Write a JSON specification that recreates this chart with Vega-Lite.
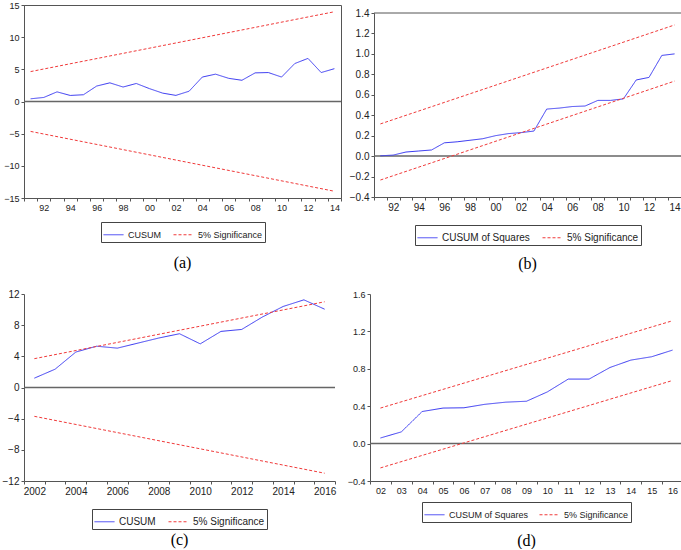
{
  "$schema": "https://vega.github.io/schema/vega-lite/v6.json",
  "padding": {"left": 0, "top": 0, "right": 0, "bottom": 0},
  "background": "white",
  "config": {
    "view": {"stroke": null},
    "font": "Liberation Sans",
    "axis": {"grid": false, "domainColor": "#555", "tickColor": "#555", "labelColor": "#222", "labelFont": "Liberation Sans", "tickSize": 3, "labelPadding": 2, "title": null, "labelOverlap": false},
    "legend": {"orient": "bottom", "direction": "horizontal", "title": null, "strokeColor": "#444", "padding": 2, "symbolType": "stroke", "symbolStrokeWidth": 1, "labelFont": "Liberation Sans", "labelColor": "#222", "columnPadding": 10, "offset": 6, "layout": {"bottom": {"anchor": "middle"}}},
    "title": {"font": "Liberation Serif", "fontSize": 16, "fontWeight": "normal", "color": "#000", "orient": "bottom", "anchor": "middle"}
  },
  "datasets": {
    "a": [
      {"yr": 1991, "v": 0.42, "s": "CUSUM", "g": "c"},
      {"yr": 1992, "v": 0.63, "s": "CUSUM", "g": "c"},
      {"yr": 1993, "v": 1.5, "s": "CUSUM", "g": "c"},
      {"yr": 1994, "v": 0.94, "s": "CUSUM", "g": "c"},
      {"yr": 1995, "v": 1.05, "s": "CUSUM", "g": "c"},
      {"yr": 1996, "v": 2.4, "s": "CUSUM", "g": "c"},
      {"yr": 1997, "v": 2.9, "s": "CUSUM", "g": "c"},
      {"yr": 1998, "v": 2.25, "s": "CUSUM", "g": "c"},
      {"yr": 1999, "v": 2.8, "s": "CUSUM", "g": "c"},
      {"yr": 2000, "v": 2.0, "s": "CUSUM", "g": "c"},
      {"yr": 2001, "v": 1.3, "s": "CUSUM", "g": "c"},
      {"yr": 2002, "v": 0.95, "s": "CUSUM", "g": "c"},
      {"yr": 2003, "v": 1.6, "s": "CUSUM", "g": "c"},
      {"yr": 2004, "v": 3.8, "s": "CUSUM", "g": "c"},
      {"yr": 2005, "v": 4.25, "s": "CUSUM", "g": "c"},
      {"yr": 2006, "v": 3.6, "s": "CUSUM", "g": "c"},
      {"yr": 2007, "v": 3.3, "s": "CUSUM", "g": "c"},
      {"yr": 2008, "v": 4.45, "s": "CUSUM", "g": "c"},
      {"yr": 2009, "v": 4.5, "s": "CUSUM", "g": "c"},
      {"yr": 2010, "v": 3.8, "s": "CUSUM", "g": "c"},
      {"yr": 2011, "v": 5.9, "s": "CUSUM", "g": "c"},
      {"yr": 2012, "v": 6.7, "s": "CUSUM", "g": "c"},
      {"yr": 2013, "v": 4.5, "s": "CUSUM", "g": "c"},
      {"yr": 2014, "v": 5.1, "s": "CUSUM", "g": "c"},
      {"yr": 1991, "v": 4.65, "s": "5% Significance", "g": "u"},
      {"yr": 2014, "v": 13.95, "s": "5% Significance", "g": "u"},
      {"yr": 1991, "v": -4.65, "s": "5% Significance", "g": "l"},
      {"yr": 2014, "v": -13.95, "s": "5% Significance", "g": "l"}
    ],
    "b": [
      {"yr": 1991, "v": 0.003, "s": "CUSUM of Squares", "g": "c"},
      {"yr": 1992, "v": 0.01, "s": "CUSUM of Squares", "g": "c"},
      {"yr": 1993, "v": 0.04, "s": "CUSUM of Squares", "g": "c"},
      {"yr": 1994, "v": 0.05, "s": "CUSUM of Squares", "g": "c"},
      {"yr": 1995, "v": 0.06, "s": "CUSUM of Squares", "g": "c"},
      {"yr": 1996, "v": 0.13, "s": "CUSUM of Squares", "g": "c"},
      {"yr": 1997, "v": 0.14, "s": "CUSUM of Squares", "g": "c"},
      {"yr": 1998, "v": 0.155, "s": "CUSUM of Squares", "g": "c"},
      {"yr": 1999, "v": 0.17, "s": "CUSUM of Squares", "g": "c"},
      {"yr": 2000, "v": 0.2, "s": "CUSUM of Squares", "g": "c"},
      {"yr": 2001, "v": 0.22, "s": "CUSUM of Squares", "g": "c"},
      {"yr": 2002, "v": 0.23, "s": "CUSUM of Squares", "g": "c"},
      {"yr": 2003, "v": 0.245, "s": "CUSUM of Squares", "g": "c"},
      {"yr": 2004, "v": 0.46, "s": "CUSUM of Squares", "g": "c"},
      {"yr": 2005, "v": 0.47, "s": "CUSUM of Squares", "g": "c"},
      {"yr": 2006, "v": 0.485, "s": "CUSUM of Squares", "g": "c"},
      {"yr": 2007, "v": 0.49, "s": "CUSUM of Squares", "g": "c"},
      {"yr": 2008, "v": 0.545, "s": "CUSUM of Squares", "g": "c"},
      {"yr": 2009, "v": 0.545, "s": "CUSUM of Squares", "g": "c"},
      {"yr": 2010, "v": 0.56, "s": "CUSUM of Squares", "g": "c"},
      {"yr": 2011, "v": 0.745, "s": "CUSUM of Squares", "g": "c"},
      {"yr": 2012, "v": 0.77, "s": "CUSUM of Squares", "g": "c"},
      {"yr": 2013, "v": 0.985, "s": "CUSUM of Squares", "g": "c"},
      {"yr": 2014, "v": 1.0, "s": "CUSUM of Squares", "g": "c"},
      {"yr": 1991, "v": 0.315, "s": "5% Significance", "g": "u"},
      {"yr": 2014, "v": 1.283, "s": "5% Significance", "g": "u"},
      {"yr": 1991, "v": -0.234, "s": "5% Significance", "g": "l"},
      {"yr": 2014, "v": 0.734, "s": "5% Significance", "g": "l"}
    ],
    "c": [
      {"yr": 2002, "v": 1.2, "s": "CUSUM", "g": "c"},
      {"yr": 2003, "v": 2.35, "s": "CUSUM", "g": "c"},
      {"yr": 2004, "v": 4.55, "s": "CUSUM", "g": "c"},
      {"yr": 2005, "v": 5.3, "s": "CUSUM", "g": "c"},
      {"yr": 2006, "v": 5.05, "s": "CUSUM", "g": "c"},
      {"yr": 2007, "v": 5.7, "s": "CUSUM", "g": "c"},
      {"yr": 2008, "v": 6.35, "s": "CUSUM", "g": "c"},
      {"yr": 2009, "v": 6.9, "s": "CUSUM", "g": "c"},
      {"yr": 2010, "v": 5.6, "s": "CUSUM", "g": "c"},
      {"yr": 2011, "v": 7.2, "s": "CUSUM", "g": "c"},
      {"yr": 2012, "v": 7.45, "s": "CUSUM", "g": "c"},
      {"yr": 2013, "v": 9.05, "s": "CUSUM", "g": "c"},
      {"yr": 2014, "v": 10.4, "s": "CUSUM", "g": "c"},
      {"yr": 2015, "v": 11.25, "s": "CUSUM", "g": "c"},
      {"yr": 2016, "v": 10.05, "s": "CUSUM", "g": "c"},
      {"yr": 2002, "v": 3.7, "s": "5% Significance", "g": "u"},
      {"yr": 2016, "v": 11.0, "s": "5% Significance", "g": "u"},
      {"yr": 2002, "v": -3.7, "s": "5% Significance", "g": "l"},
      {"yr": 2016, "v": -11.0, "s": "5% Significance", "g": "l"}
    ],
    "d": [
      {"yr": 2002, "v": 0.06, "s": "CUSUM of Squares", "g": "c"},
      {"yr": 2003, "v": 0.125, "s": "CUSUM of Squares", "g": "c"},
      {"yr": 2004, "v": 0.343, "s": "CUSUM of Squares", "g": "c"},
      {"yr": 2005, "v": 0.38, "s": "CUSUM of Squares", "g": "c"},
      {"yr": 2006, "v": 0.383, "s": "CUSUM of Squares", "g": "c"},
      {"yr": 2007, "v": 0.42, "s": "CUSUM of Squares", "g": "c"},
      {"yr": 2008, "v": 0.443, "s": "CUSUM of Squares", "g": "c"},
      {"yr": 2009, "v": 0.453, "s": "CUSUM of Squares", "g": "c"},
      {"yr": 2010, "v": 0.553, "s": "CUSUM of Squares", "g": "c"},
      {"yr": 2011, "v": 0.69, "s": "CUSUM of Squares", "g": "c"},
      {"yr": 2012, "v": 0.69, "s": "CUSUM of Squares", "g": "c"},
      {"yr": 2013, "v": 0.814, "s": "CUSUM of Squares", "g": "c"},
      {"yr": 2014, "v": 0.893, "s": "CUSUM of Squares", "g": "c"},
      {"yr": 2015, "v": 0.929, "s": "CUSUM of Squares", "g": "c"},
      {"yr": 2016, "v": 1.0, "s": "CUSUM of Squares", "g": "c"},
      {"yr": 2002, "v": 0.38, "s": "5% Significance", "g": "u"},
      {"yr": 2016, "v": 1.314, "s": "5% Significance", "g": "u"},
      {"yr": 2002, "v": -0.26, "s": "5% Significance", "g": "l"},
      {"yr": 2016, "v": 0.675, "s": "5% Significance", "g": "l"}
    ]
  },
  "resolve": {"scale": {"color": "independent", "strokeDash": "independent", "x": "independent", "y": "independent"}, "legend": {"color": "independent", "strokeDash": "independent"}},
  "spacing": 17,
  "vconcat": [
    {
      "hconcat": [
        {
          "width": 317, "height": 193,
          "view": {"stroke": "#555"},
          "title": {"text": "(a)", "offset": 12},
          "layer": [
            {"data": {"values": [{"z": 0}]}, "mark": {"type": "rule", "color": "#666", "strokeWidth": 1.5}, "encoding": {"y": {"field": "z", "type": "quantitative"}}},
            {
              "data": {"name": "a"},
              "mark": {"type": "line", "strokeWidth": 1},
              "encoding": {
                "x": {"field": "yr", "type": "ordinal", "bandPosition": 0.5, "scale": {"type": "band", "paddingInner": 0, "paddingOuter": 0},
                  "axis": {"labelAngle": 0, "tickBand": "extent", "labelFontSize": 9, "labelExpr": "datum.value % 2 == 0 ? substring('' + datum.value, 2) : ''"}},
                "y": {"field": "v", "type": "quantitative", "scale": {"domain": [-15, 15], "nice": false, "zero": false}, "axis": {"values": [-15, -10, -5, 0, 5, 10, 15], "tickCount": 50, "format": "d", "labelOverlap": false, "labelFontSize": 9, "minExtent": 23, "maxExtent": 23}},
                "detail": {"field": "g"},
                "color": {"field": "s", "type": "nominal", "scale": {"domain": ["CUSUM", "5% Significance"], "range": ["#3a3af2", "#f03a3a"]}, "legend": {"labelFontSize": 9, "symbolSize": 400, "offset": 10}},
                "strokeDash": {"field": "s", "type": "nominal", "scale": {"domain": ["CUSUM", "5% Significance"], "range": [[1, 0], [3, 2]]}, "legend": {"labelFontSize": 9, "symbolSize": 400, "offset": 10}}
              }
            }
          ]
        },
        {
          "width": 307, "height": 192,
          "title": {"text": "(b)", "offset": 10},
          "layer": [
            {"data": {"values": [{"z": 0}]}, "mark": {"type": "rule", "color": "#666", "strokeWidth": 1.5}, "encoding": {"y": {"field": "z", "type": "quantitative"}}},
            {"data": {"values": [{"z": 1.4}]}, "mark": {"type": "rule", "color": "#555", "strokeWidth": 1}, "encoding": {"y": {"field": "z", "type": "quantitative"}}},
            {
              "data": {"name": "b"},
              "mark": {"type": "line", "strokeWidth": 1},
              "encoding": {
                "x": {"field": "yr", "type": "ordinal", "bandPosition": 0.5, "scale": {"type": "band", "paddingInner": 0, "paddingOuter": 0},
                  "axis": {"labelAngle": 0, "tickBand": "extent", "labelFontSize": 10, "labelExpr": "datum.value % 2 == 0 ? substring('' + datum.value, 2) : ''"}},
                "y": {"field": "v", "type": "quantitative", "scale": {"domain": [-0.4, 1.4], "nice": false, "zero": false, "rangeMax": 8}, "axis": {"values": [-0.4, -0.2, 0, 0.2, 0.4, 0.6, 0.8, 1.0, 1.2, 1.4], "tickCount": 50, "labelOverlap": false, "format": ".1f", "labelFontSize": 10, "minExtent": 27, "maxExtent": 27}},
                "detail": {"field": "g"},
                "color": {"field": "s", "type": "nominal", "scale": {"domain": ["CUSUM of Squares", "5% Significance"], "range": ["#3a3af2", "#f03a3a"]}, "legend": {"labelFontSize": 10, "symbolSize": 400, "offset": 13}},
                "strokeDash": {"field": "s", "type": "nominal", "scale": {"domain": ["CUSUM of Squares", "5% Significance"], "range": [[1, 0], [3, 2]]}, "legend": {"labelFontSize": 10, "symbolSize": 400, "offset": 13}}
              }
            }
          ]
        }
      ],
      "spacing": 4,
      "resolve": {"scale": {"color": "independent", "strokeDash": "independent"}, "legend": {"color": "independent", "strokeDash": "independent"}}
    },
    {
      "hconcat": [
        {
          "width": 311, "height": 187,
          "title": {"text": "(c)", "offset": 2},
          "layer": [
            {"data": {"values": [{"z": 0}]}, "mark": {"type": "rule", "color": "#666", "strokeWidth": 1.5}, "encoding": {"y": {"field": "z", "type": "quantitative"}}},
            {
              "data": {"name": "c"},
              "mark": {"type": "line", "strokeWidth": 1},
              "encoding": {
                "x": {"field": "yr", "type": "ordinal", "bandPosition": 0.5, "scale": {"type": "band", "paddingInner": 0, "paddingOuter": 0},
                  "axis": {"labelAngle": 0, "tickBand": "extent", "labelFontSize": 10, "labelExpr": "datum.value % 2 == 0 ? '' + datum.value : ''"}},
                "y": {"field": "v", "type": "quantitative", "scale": {"domain": [-12, 12], "nice": false, "zero": false}, "axis": {"values": [-12, -8, -4, 0, 4, 8, 12], "tickCount": 50, "format": "d", "labelOverlap": false, "labelFontSize": 10, "minExtent": 22, "maxExtent": 22}},
                "detail": {"field": "g"},
                "color": {"field": "s", "type": "nominal", "scale": {"domain": ["CUSUM", "5% Significance"], "range": ["#3a3af2", "#f03a3a"]}, "legend": {"labelFontSize": 10, "symbolSize": 400, "offset": 13}},
                "strokeDash": {"field": "s", "type": "nominal", "scale": {"domain": ["CUSUM", "5% Significance"], "range": [[1, 0], [3, 2]]}, "legend": {"labelFontSize": 10, "symbolSize": 400, "offset": 13}}
              }
            }
          ]
        },
        {
          "width": 313, "height": 187,
          "title": {"text": "(d)", "offset": 10},
          "layer": [
            {"data": {"values": [{"z": 0}]}, "mark": {"type": "rule", "color": "#666", "strokeWidth": 1.5}, "encoding": {"y": {"field": "z", "type": "quantitative"}}},
            {
              "data": {"name": "d"},
              "mark": {"type": "line", "strokeWidth": 1},
              "encoding": {
                "x": {"field": "yr", "type": "ordinal", "bandPosition": 0.5, "scale": {"type": "band", "paddingInner": 0, "paddingOuter": 0},
                  "axis": {"labelAngle": 0, "tickBand": "extent", "labelFontSize": 9, "labelExpr": "datum.value ? substring('' + datum.value, 2) : ''"}},
                "y": {"field": "v", "type": "quantitative", "scale": {"domain": [-0.4, 1.6], "nice": false, "zero": false}, "axis": {"values": [-0.4, 0, 0.4, 0.8, 1.2, 1.6], "tickCount": 50, "labelOverlap": false, "format": ".1f", "labelFontSize": 9, "minExtent": 28, "maxExtent": 28}},
                "detail": {"field": "g"},
                "color": {"field": "s", "type": "nominal", "scale": {"domain": ["CUSUM of Squares", "5% Significance"], "range": ["#3a3af2", "#f03a3a"]}, "legend": {"labelFontSize": 9, "symbolSize": 400, "offset": 7, "columnPadding": 8}},
                "strokeDash": {"field": "s", "type": "nominal", "scale": {"domain": ["CUSUM of Squares", "5% Significance"], "range": [[1, 0], [3, 2]]}, "legend": {"labelFontSize": 9, "symbolSize": 400, "offset": 7, "columnPadding": 8}}
              }
            }
          ]
        }
      ],
      "spacing": 6,
      "resolve": {"scale": {"color": "independent", "strokeDash": "independent"}, "legend": {"color": "independent", "strokeDash": "independent"}}
    }
  ]
}
